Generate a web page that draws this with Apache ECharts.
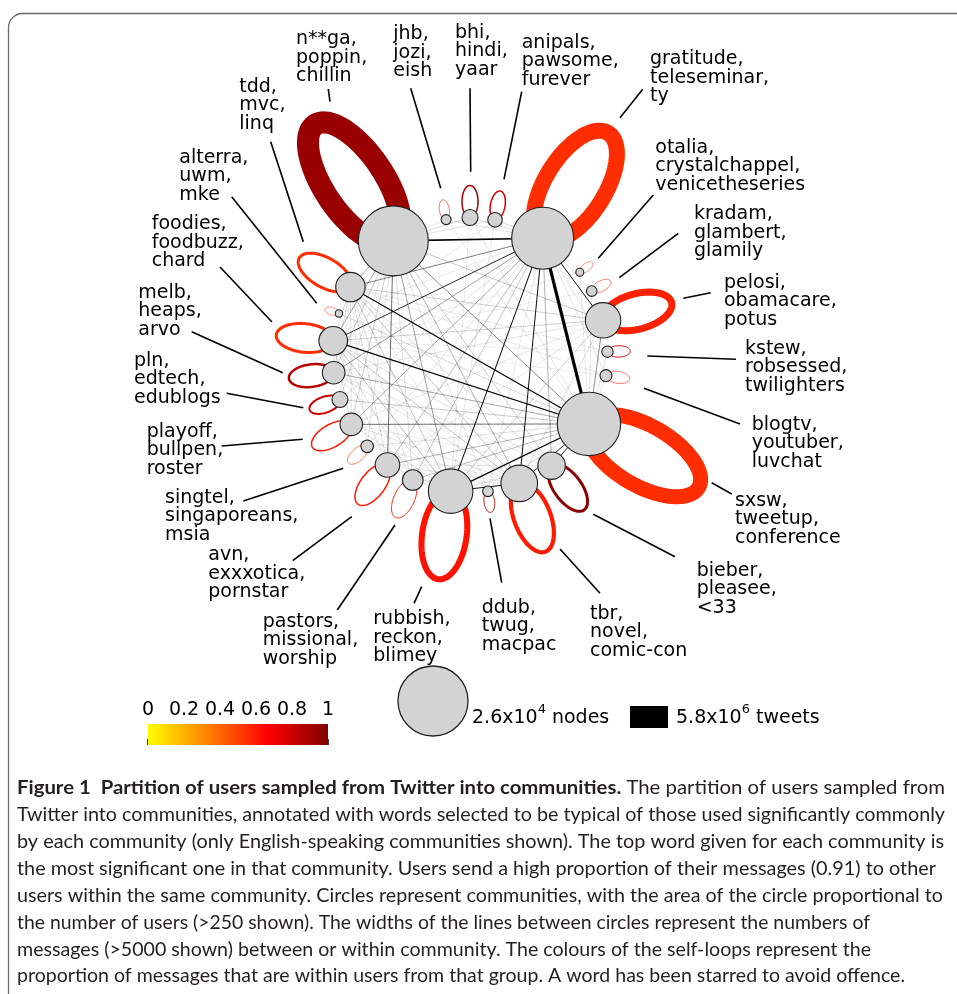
<!DOCTYPE html>
<html><head><meta charset="utf-8">
<script src="https://cdn.jsdelivr.net/npm/echarts@6/dist/echarts.min.js"></script>
<style>html,body{margin:0;padding:0;background:#fff}#c{width:957px;height:994px}</style>
</head><body><div id="c"></div>
<script>
// ---------------- data ----------------
const communities = [
  'n**ga, poppin, chillin', 'jhb, jozi, eish', 'bhi, hindi, yaar', 'anipals, pawsome, furever',
  'gratitude, teleseminar, ty', 'otalia, crystalchappel, venicetheseries', 'kradam, glambert, glamily',
  'pelosi, obamacare, potus', 'kstew, robsessed, twilighters', 'blogtv, youtuber, luvchat',
  'sxsw, tweetup, conference', 'bieber, pleasee, <33', 'tbr, novel, comic-con', 'ddub, twug, macpac',
  'rubbish, reckon, blimey', 'pastors, missional, worship', 'avn, exxxotica, pornstar',
  'singtel, singaporeans, msia', 'playoff, bullpen, roster', 'pln, edtech, edublogs',
  'melb, heaps, arvo', 'foodies, foodbuzz, chard', 'alterra, uwm, mke', 'tdd, mvc, linq'
];
// position of each community on the ring (degrees, clockwise from 3 o'clock)
const nodeAngles = [236.1, 260, 270, 280.5, 301.9, 323, 332.3, 345.4, 358.6, 8.6, 30.1, 53.6,
  69, 82.5, 98.1, 114.6, 126.9, 138.4, 149.7, 161.1, 172.6, 185.9, 197.6, 209.6];
// users per community
const nodeUsers = [26000, 530, 1360, 1130, 20400, 340, 600, 6650, 690, 760, 21300, 4000,
  7100, 600, 10500, 2250, 3200, 840, 2700, 1360, 2700, 4350, 290, 4600];
// within-community messages (thousands of tweets)
const loopTweets = [5800, 160, 400, 400, 4220, 130, 160, 1850, 260, 160, 3950, 790,
  1100, 260, 1600, 260, 400, 190, 400, 530, 660, 800, 130, 800];
// proportion of messages within the group
const loopProportion = [0.93, 0.75, 0.9, 0.78, 0.55, 0.6, 0.6, 0.58, 0.8, 0.6, 0.55, 0.97,
  0.6, 0.87, 0.62, 0.58, 0.6, 0.5, 0.6, 0.8, 0.85, 0.55, 0.6, 0.55];
// between-community messages (thousands of tweets)
const edgeSource = [4, 0, 10, 10, 10, 4, 4, 4, 4, 12, 10, 10, 7, 10, 0, 4, 0, 4, 0, 0, 0, 4, 0, 10, 10, 10, 4, 4, 14, 14, 11, 0, 7, 7, 7, 12, 12, 0, 0, 0,
  0, 0, 0, 4, 4, 4, 4, 4, 4, 4, 4, 4, 4, 10, 10, 10, 10, 10, 10, 10, 10, 0, 0, 0, 0, 0, 14, 14, 14, 14, 12, 12, 12, 11, 11, 11, 7, 7, 7, 7, 21, 20, 16, 16, 18, 18, 15, 15, 13, 13, 2, 3, 2, 1, 19, 3, 5, 6, 8, 9, 8, 9, 9, 8, 11, 11, 11, 12, 13, 17, 20, 19, 22, 17];
const edgeTarget = [10, 4, 23, 21, 14, 14, 12, 7, 21, 14, 12, 11, 10, 18, 16, 23, 10, 20, 14, 21, 23, 18, 12, 20, 16, 15, 16, 15, 21, 23, 4, 7, 14, 21, 23, 21, 23, 18, 20, 11,
  1, 2, 3, 1, 2, 3, 5, 6, 8, 9, 17, 19, 22, 5, 6, 8, 9, 13, 17, 19, 22, 13, 15, 17, 19, 22, 16, 18, 20, 15, 16, 18, 20, 14, 21, 23, 12, 16, 18, 20, 23, 23, 21, 23, 21, 23, 21, 23, 21, 23, 14, 14, 10, 10, 10, 21, 21, 21, 21, 21, 14, 14, 23, 23, 16, 18, 20, 15, 4, 12, 21, 23, 10, 23];
const edgeTweets = [840, 400, 300, 300, 320, 260, 250, 250, 220, 240, 200, 200, 120, 150, 150, 130, 120, 100, 100, 90, 90, 90, 80, 90, 80, 70, 70, 60, 70, 60, 80, 60, 50, 50, 50, 60, 60, 50, 50, 50,
  30, 40, 35, 35, 40, 40, 25, 30, 30, 30, 30, 30, 25, 25, 30, 30, 30, 35, 35, 35, 25, 30, 35, 30, 30, 25, 40, 35, 35, 35, 30, 30, 30, 35, 35, 35, 35, 30, 30, 30, 40, 35, 35, 35, 35, 35, 30, 30, 25, 25, 25, 25, 30, 25, 25, 25, 20, 20, 20, 20, 20, 20, 25, 25, 25, 25, 25, 25, 25, 25, 30, 25, 20, 25];
const colorTicks = [0, 0.2, 0.4, 0.6, 0.8, 1];
const legendUsers = 26000;      // 2.6x10^4 nodes
const legendTweets = 5800;      // 5.8x10^6 tweets (thousands)
const captionBold = 'Figure 1  Partition of users sampled from Twitter into communities.';
const captionLines = [
  ' The partition of users sampled from',
  'Twitter into communities, annotated with words selected to be typical of those used significantly commonly',
  'by each community (only English-speaking communities shown). The top word given for each community is',
  'the most significant one in that community. Users send a high proportion of their messages (0.91) to other',
  'users within the same community. Circles represent communities, with the area of the circle proportional to',
  'the number of users (>250 shown). The widths of the lines between circles represent the numbers of',
  'messages (>5000 shown) between or within community. The colours of the self-loops represent the',
  'proportion of messages that are within users from that group. A word has been starred to avoid offence.'
];

// ---------------- layout / style ----------------
const LABEL_FONT = 'DejaVu Sans';
const hotColors = ['#ffff00', '#ff8000', '#ff0000', '#800000'];
const nodeRadiusPx = u => 35 * Math.sqrt(u / legendUsers);
const tweetWidthPx = k => 22 * k / legendTweets;
// [textX, textTop, leaderX1, leaderY1, leaderX2, leaderY2]
const labelLayout = [
  [296, 31.7, 328.3, 89, 330, 101.7], [393.3, 26.7, 410.7, 88.3, 440.7, 188.3],
  [455, 25, 470, 88.3, 470.7, 171.7], [521.7, 35, 521.7, 91.7, 504, 179.3],
  [650, 51.7, 642.7, 89.3, 620, 117.7], [655.3, 140, 653.3, 195, 598.3, 258.3],
  [694, 206.7, 678.3, 233.3, 619.3, 277.7], [724, 275, 710.7, 292.7, 683.3, 298.3],
  [745, 341, 736, 359.3, 647.3, 356], [751.7, 417.3, 740, 424, 644, 388.3],
  [735, 493.3, 731.7, 494, 711.7, 482.7], [696.7, 563.3, 675, 556.7, 593.3, 514.3],
  [590, 606, 600, 593.3, 560, 549], [481.7, 600, 501.7, 582.7, 490, 518.3],
  [373.3, 611.7, 421.7, 586.7, 414, 603.3], [262.7, 614, 395, 525, 337.3, 610],
  [208.3, 547.7, 351.7, 516.7, 292.7, 560.7], [165, 490, 343.3, 468.3, 243.3, 501],
  [146.7, 424, 302.7, 439.3, 221.7, 446], [134, 353.3, 303.3, 407.7, 226.7, 393.3],
  [138.3, 285, 282.7, 372.7, 191.7, 331.7], [151.7, 216.7, 220, 267, 272, 322],
  [179.3, 150, 231.7, 196.7, 316.7, 303.3], [239.3, 79.3, 270.7, 141.7, 303.3, 241.7]
];
// right edge of each caption line
const captionRight = [945, 945, 944, 936, 943, 870, 871, 905];

const graphics = [];
graphics.push({type: 'rect', silent: true, shape: {x: 8.5, y: 13.5, width: 1200, height: 1200, r: 14},
  style: {fill: 'none', stroke: '#6a6a6a', lineWidth: 1.3}});
communities.forEach((c, i) => {
  const L = labelLayout[i];
  graphics.push({type: 'line', silent: true, shape: {x1: L[2], y1: L[3], x2: L[4], y2: L[5]},
    style: {stroke: '#000', lineWidth: 1.6}});
  graphics.push({type: 'text', silent: true, x: L[0], y: L[1] - 1.4,
    style: {text: c.split(' ').join('\n'), fontSize: 19, fontFamily: LABEL_FONT, lineHeight: 18.4,
      fill: '#000', verticalAlign: 'top', align: 'left'}});
});
// size legends
graphics.push({type: 'circle', silent: true, shape: {cx: 433, cy: 701, r: nodeRadiusPx(legendUsers)},
  style: {fill: '#d3d3d3', stroke: '#222', lineWidth: 1.3}});
const supRich = {n: {fontSize: 19, fontFamily: LABEL_FONT, lineHeight: 30, fill: '#000'},
  s: {fontSize: 13, fontFamily: LABEL_FONT, lineHeight: 7, verticalAlign: 'top', fill: '#000'}};
graphics.push({type: 'text', silent: true, x: 472, y: 718,
  style: {text: '{n|2.6x10}{s|4}{n| nodes}', rich: supRich, verticalAlign: 'middle'}});
const rh = tweetWidthPx(legendTweets);
graphics.push({type: 'rect', silent: true, shape: {x: 630, y: 717 - rh / 2, width: 38, height: rh},
  style: {fill: '#000'}});
graphics.push({type: 'text', silent: true, x: 676, y: 718,
  style: {text: '{n|5.8x10}{s|6}{n| tweets}', rich: supRich, verticalAlign: 'middle'}});
// caption
const CAP_FONT = 'Lato';
const CAP_SIZE = 19;
const CAP_LEFT = 17;
const ctx = document.createElement('canvas').getContext('2d');
captionLines.forEach((t, i) => {
  const y = 788 + 26.9 * i;
  ctx.font = CAP_SIZE + 'px ' + CAP_FONT;
  let w = ctx.measureText(t).width;
  if (i === 0) {
    ctx.font = 'bold ' + CAP_SIZE + 'px ' + CAP_FONT;
    w += ctx.measureText(captionBold).width;
  }
  const sx = (captionRight[i] - CAP_LEFT) / w;
  const style = i === 0
    ? {text: '{b|' + captionBold + '}{n|' + t + '}', rich: {
        b: {fontSize: CAP_SIZE, fontFamily: CAP_FONT, fontWeight: 'bold', fill: '#231f20'},
        n: {fontSize: CAP_SIZE, fontFamily: CAP_FONT, fill: '#231f20'}}, verticalAlign: 'middle'}
    : {text: t, fontSize: CAP_SIZE, fontFamily: CAP_FONT, fill: '#231f20', verticalAlign: 'middle'};
  graphics.push({type: 'text', silent: true, x: CAP_LEFT, y: y, scaleX: sx, style: style});
});

function ringPoint(api, ang) { return api.coord([1, ang]); }

const option = {
  animation: false,
  backgroundColor: '#fff',
  polar: {center: [470, 355], radius: 137.5},
  angleAxis: {type: 'value', min: 0, max: 360, startAngle: 0, clockwise: true, show: false},
  radiusAxis: {type: 'value', min: 0, max: 1, show: false},
  grid: {left: 148, top: 724, width: 180, height: 21, show: false},
  xAxis: {type: 'value', min: 0, max: 1, interval: 0.2, position: 'top',
    axisLine: {show: false}, splitLine: {show: false}, minorTick: {show: false},
    axisTick: {show: true, length: 6, lineStyle: {color: '#000', width: 1.5}},
    axisLabel: {fontSize: 19, fontFamily: LABEL_FONT, color: '#000', margin: 4,
      formatter: v => String(colorTicks.find(t => Math.abs(t - v) < 1e-6) ?? v)}},
  yAxis: {type: 'value', min: 0, max: 1, show: false, axisLine: {show: false},
    axisTick: {show: false}, axisLabel: {show: false}, splitLine: {show: false}},
  visualMap: {type: 'continuous', show: false, min: 0, max: 1, dimension: 4, seriesIndex: 1,
    inRange: {color: hotColors}},
  graphic: graphics,
  series: [
    { // edges between communities
      type: 'custom', coordinateSystem: 'polar', silent: true,
      data: edgeSource.map((s, i) => [s, edgeTarget[i], edgeTweets[i]]),
      renderItem(params, api) {
        const p1 = ringPoint(api, nodeAngles[api.value(0)]);
        const p2 = ringPoint(api, nodeAngles[api.value(1)]);
        return {type: 'line', shape: {x1: p1[0], y1: p1[1], x2: p2[0], y2: p2[1]},
          style: {stroke: '#000', fill: 'none', lineWidth: tweetWidthPx(api.value(2))}};
      }
    },
    { // self-loops
      type: 'custom', coordinateSystem: 'polar', silent: true,
      data: nodeAngles.map((a, i) => [1, a, nodeUsers[i], loopTweets[i], loopProportion[i]]),
      renderItem(params, api) {
        const ang = api.value(1);
        const p = api.coord([api.value(0), ang]);
        const r = nodeRadiusPx(api.value(2));
        const A = 2 * r, B = Math.min(r, 30);
        const th = ang * Math.PI / 180, ux = Math.cos(th), uy = Math.sin(th);
        const cx = p[0] + A * ux, cy = p[1] + A * uy;
        const pts = [];
        for (let k = 0; k < 96; k++) {
          const f = 2 * Math.PI * k / 96;
          pts.push([cx + A * Math.cos(f) * ux - B * Math.sin(f) * uy,
                    cy + A * Math.cos(f) * uy + B * Math.sin(f) * ux]);
        }
        return {type: 'polygon', shape: {points: pts},
          style: {fill: 'none', stroke: api.visual('color'), lineWidth: tweetWidthPx(api.value(3))}};
      }
    },
    { // communities
      type: 'custom', coordinateSystem: 'polar', silent: true,
      data: nodeAngles.map((a, i) => [1, a, nodeUsers[i]]),
      renderItem(params, api) {
        const p = api.coord([api.value(0), api.value(1)]);
        return {type: 'circle', shape: {cx: p[0], cy: p[1], r: nodeRadiusPx(api.value(2))},
          style: {fill: '#d3d3d3', stroke: '#222', lineWidth: 1.1}};
      }
    },
    { // colour bar
      type: 'custom', coordinateSystem: 'cartesian2d', silent: true,
      data: [[0, 0, 1, 1]],
      renderItem(params, api) {
        const p0 = api.coord([api.value(0), api.value(3)]);
        const p1 = api.coord([api.value(2), api.value(1)]);
        return {type: 'rect', shape: {x: p0[0], y: p0[1], width: p1[0] - p0[0], height: p1[1] - p0[1]},
          style: {stroke: 'none', lineWidth: 0, fill: new echarts.graphic.LinearGradient(0, 0, 1, 0,
            hotColors.map((c, i) => ({offset: i / (hotColors.length - 1), color: c})))}};
      }
    }
  ]
};
const chart = echarts.init(document.getElementById('c'), null, {renderer: 'canvas'});
chart.setOption(option);
</script></body></html>
